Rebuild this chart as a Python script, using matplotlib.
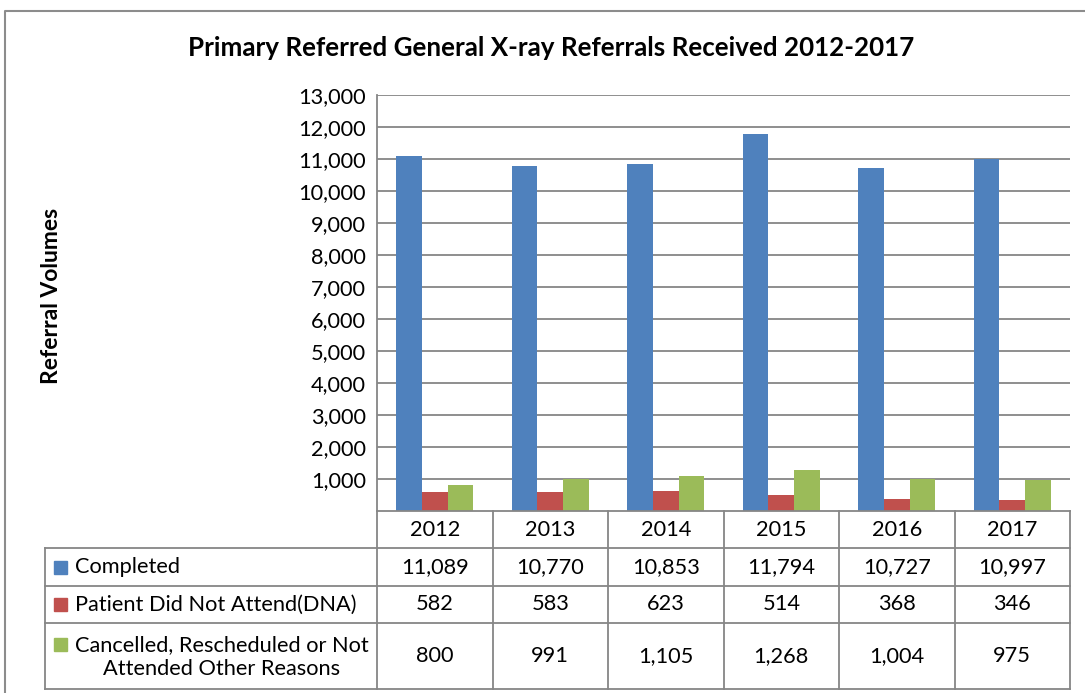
import matplotlib
matplotlib.use("Agg")
import matplotlib.pyplot as plt
from matplotlib.lines import Line2D
from matplotlib.patches import Rectangle

years = ["2012", "2013", "2014", "2015", "2016", "2017"]
series_names = ["Completed", "Patient Did Not Attend(DNA)",
                "Cancelled, Rescheduled or Not\nAttended Other Reasons"]
completed = [11089, 10770, 10853, 11794, 10727, 10997]
dna = [582, 583, 623, 514, 368, 346]
cancelled = [800, 991, 1105, 1268, 1004, 975]
series = [completed, dna, cancelled]
colors = ["#4F81BD", "#C0504D", "#9BBB59"]
yticks = list(range(1000, 14000, 1000))

FONT = "Lato"
plt.rcParams['font.family'] = [FONT, 'DejaVu Sans']
W, H = 1085, 693
fig = plt.figure(figsize=(W / 100, H / 100), dpi=100)
GRID = "#868686"
fs = 15.7

# pixel geometry
L, R, T, B = 377, 1070, 95, 511
ax = fig.add_axes([L / W, 1 - B / H, (R - L) / W, (B - T) / H])
ax.set_xlim(-0.5, len(years) - 0.5)
ax.set_ylim(0, 13000)
bw = 0.222
for i, (vals, c) in enumerate(zip(series, colors)):
    xs = [k + (i - 1) * bw for k in range(len(years))]
    ax.bar(xs, vals, width=bw, color=c, zorder=3, linewidth=0)
ax.set_yticks(yticks)
ax.set_yticklabels([f"{v:,}" for v in yticks], fontsize=fs)
ax.tick_params(axis='y', length=0, pad=8)
ax.set_xticks([])
ax.grid(axis='y', color=GRID, linewidth=1.3, zorder=0)
for s in ["top", "right", "bottom"]:
    ax.spines[s].set_visible(False)
ax.spines["left"].set_color(GRID)
ax.spines["left"].set_linewidth(1.3)

# overlay in pixel coordinates for table and frame
ov = fig.add_axes([0, 0, 1, 1], zorder=5)
ov.set_xlim(0, W)
ov.set_ylim(H, 0)
ov.axis("off")
ov.patch.set_alpha(0)

# outer chart frame
ov.add_line(Line2D([5, 5, W + 5], [H + 5, 11, 11], color="#8c8c8c", lw=1.5))

rows_y = [B, 548, 586, 623, 689]
col_w = (R - L) / len(years)
cols_x = [L + k * col_w for k in range(len(years) + 1)]
TL = 45
lc = GRID
ov.add_line(Line2D([L, R], [B, B], color=lc, lw=1.3))
for y in rows_y[1:]:
    ov.add_line(Line2D([TL, R], [y, y], color=lc, lw=1.3))
ov.add_line(Line2D([TL, TL], [rows_y[1], rows_y[-1]], color=lc, lw=1.3))
for x in cols_x:
    ov.add_line(Line2D([x, x], [B, rows_y[-1]], color=lc, lw=1.3))

for k, yr in enumerate(years):
    cx = (cols_x[k] + cols_x[k + 1]) / 2
    ov.text(cx, (rows_y[0] + rows_y[1]) / 2, yr, ha="center", va="center", fontsize=fs)
    for r, vals in enumerate(series):
        cy = (rows_y[r + 1] + rows_y[r + 2]) / 2
        ov.text(cx, cy, f"{vals[k]:,}", ha="center", va="center", fontsize=fs)

for r, (name, c) in enumerate(zip(series_names, colors)):
    cy = (rows_y[r + 1] + rows_y[r + 2]) / 2
    if "\n" in name:
        first_cy = rows_y[r + 1] + 21
        ov.add_patch(Rectangle((54, first_cy - 6.5), 13, 13, color=c))
        ov.text(222, cy + 1, name, ha="center", va="center", fontsize=fs,
                multialignment="center", linespacing=1.2)
    else:
        ov.add_patch(Rectangle((54, cy - 6.5), 13, 13, color=c))
        ov.text(75, cy, name, ha="left", va="center", fontsize=fs)

ov.text(551, 48, "Primary Referred General X-ray Referrals Received 2012-2017",
        ha="center", va="center", fontsize=18.7, fontweight="bold")
ov.text(52, 296, "Referral Volumes", ha="center", va="center", rotation=90,
        fontsize=16.5, fontweight="bold")

fig.savefig("out.png", dpi=100)
